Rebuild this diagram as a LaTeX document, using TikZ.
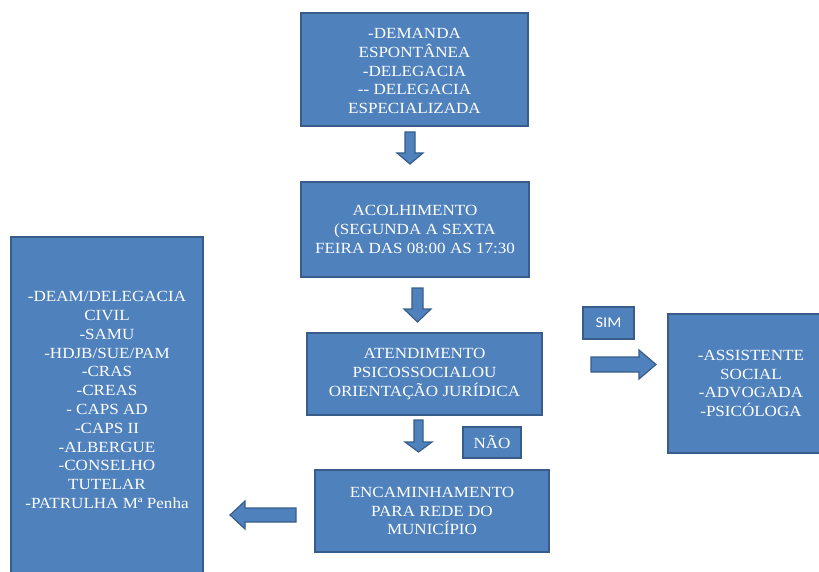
\documentclass[tikz,border=0pt]{standalone}
\usepackage{fontspec}
\setmainfont{Liberation Serif}[FakeStretch=1.1]
\newfontfamily\simfont{Carlito}[FakeStretch=1.1]
\definecolor{boxc}{HTML}{4F81BD}
\definecolor{bordc}{HTML}{385D8A}
\newcommand\dblk[6]{% cx, y0, y1, shaft half, head half, head length
  \path[blockarr] (#1-#4,#2) -- (#1+#4,#2) -- (#1+#4,#3-#6) -- (#1+#5,#3-#6) -- (#1,#3)
    -- (#1-#5,#3-#6) -- (#1-#4,#3-#6) -- cycle;}
\newcommand\hblk[6]{% cy, x0, x1, shaft half, head half, head length (signed)
  \path[blockarr] (#2,#1-#4) -- (#2,#1+#4) -- (#3-#6,#1+#4) -- (#3-#6,#1+#5) -- (#3,#1)
    -- (#3-#6,#1-#5) -- (#3-#6,#1-#4) -- cycle;}
\tikzset{
  box/.style={draw=bordc, fill=boxc, line width=1.5pt, text=white, align=center,
    inner sep=0pt, font=\fontsize{15.5}{18.8}\selectfont},
  btext/.style={text=white, align=center, inner sep=0pt, font=\fontsize{15.5}{18.8}\selectfont},
  blockarr/.style={draw=bordc, fill=boxc, line width=1.2pt, line join=miter},
}
\begin{document}
\begin{tikzpicture}[x=1pt,y=-1pt]
\useasboundingbox (0,0) rectangle (819,572);
\node[box, minimum width=227pt, minimum height=113pt] (src) at (414.5,69.5) {};
\node[btext] (srctext) at (414.5,71)
  {-DEMANDA\\ESPONTÂNEA\\-DELEGACIA\\-{}- DELEGACIA\\ESPECIALIZADA};
\node[box, minimum width=228pt, minimum height=95pt] (acol) at (415,229.5)
  {ACOLHIMENTO\\(SEGUNDA A SEXTA\\FEIRA DAS 08:00 AS 17:30};
\node[box, minimum width=235pt, minimum height=82pt] (atend) at (424.5,374)
  {ATENDIMENTO\\PSICOSSOCIALOU\\ORIENTAÇÃO JURÍDICA};
\node[box, minimum width=234pt, minimum height=82pt] (enc) at (432,511)
  {ENCAMINHAMENTO\\PARA REDE DO\\MUNICÍPIO};
\node[box, minimum width=58pt, minimum height=31pt] (nao) at (492,442.5) {NÃO};
\node[box, minimum width=51pt, minimum height=32pt, font=\simfont\fontsize{15}{18}\selectfont] (sim) at (608.5,323) {SIM};
\node[box, minimum width=166pt, minimum height=139pt] (prof) at (751,383.5)
  {-ASSISTENTE\\SOCIAL\\-ADVOGADA\\-PSICÓLOGA};
\node[box, minimum width=192pt, minimum height=350pt] (rede) at (107,412) {};
\node[btext] (redetext) at (107,400)
  {-DEAM/DELEGACIA\\CIVIL\\-SAMU\\-HDJB/SUE/PAM\\-CRAS\\-CREAS\\- CAPS AD\\-CAPS II\\-ALBERGUE\\-CONSELHO\\TUTELAR\\-PATRULHA Mª Penha};
% block arrows
\dblk{410}{132}{164}{5}{13}{11}
\dblk{417.5}{288}{322}{5.5}{13.5}{13}
\dblk{418.5}{420}{452}{4.5}{13.5}{10}
\hblk{364.5}{591}{656}{7.5}{14.5}{17}
\hblk{515}{296}{230}{7}{14}{-15}
\end{tikzpicture}
\end{document}
